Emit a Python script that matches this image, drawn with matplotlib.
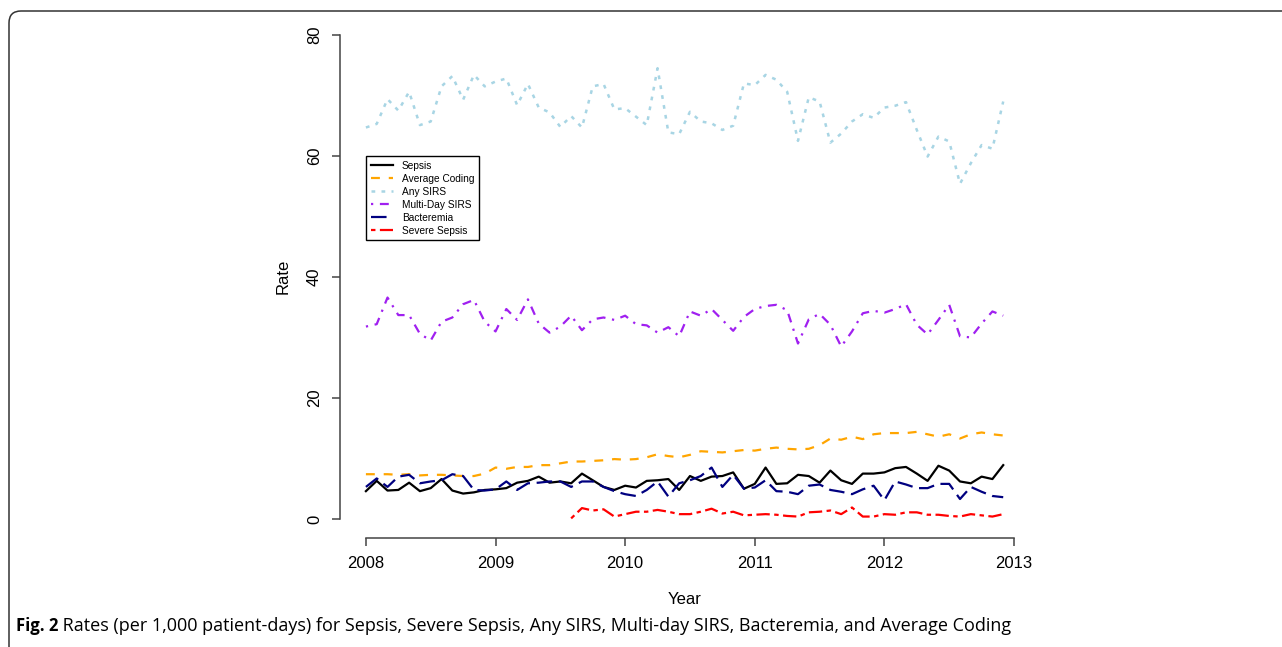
import matplotlib
matplotlib.use("Agg")
import matplotlib.pyplot as plt
from matplotlib.patches import FancyBboxPatch
from matplotlib.transforms import IdentityTransform
import numpy as np

# monthly observations, Jan 2008 .. Dec 2012
year_frac = 2008 + np.arange(60) / 12

sepsis = [4.6, 6.3, 4.7, 4.8, 6.0, 4.6, 5.1, 6.6, 4.7, 4.2,
          4.4, 4.8, 4.9, 5.1, 6.0, 6.3, 7.0, 6.0, 6.2, 5.9,
          7.5, 6.4, 5.3, 4.8, 5.5, 5.2, 6.3, 6.4, 6.6, 4.8,
          7.1, 6.3, 7.0, 7.1, 7.7, 5.0, 5.8, 8.5, 5.8, 5.9,
          7.3, 7.1, 6.0, 8.0, 6.4, 5.8, 7.5, 7.5, 7.7, 8.4,
          8.6, 7.5, 6.3, 8.8, 8.0, 6.2, 5.9, 7.0, 6.6, 8.9]
avg_coding = [7.4, 7.4, 7.4, 7.3, 7.4, 7.2, 7.3, 7.3, 7.2, 7.1,
              7.1, 7.5, 8.5, 8.3, 8.6, 8.6, 8.9, 8.9, 9.2, 9.5,
              9.5, 9.6, 9.7, 9.9, 9.8, 9.9, 10.2, 10.7, 10.4, 10.2,
              10.6, 11.2, 11.1, 11.0, 11.2, 11.4, 11.3, 11.6, 11.8, 11.6,
              11.5, 11.6, 12.2, 13.3, 13.1, 13.6, 13.2, 14.0, 14.2, 14.2,
              14.2, 14.4, 14.0, 13.6, 14.0, 13.3, 14.0, 14.3, 14.0, 13.8]
any_sirs = [64.7, 65.3, 69.4, 67.5, 70.6, 65.1, 65.7, 71.5, 73.2, 69.3,
            73.4, 71.5, 72.3, 72.8, 68.4, 71.9, 68.0, 67.2, 64.8, 66.6,
            64.7, 71.5, 71.9, 67.7, 67.9, 66.5, 65.1, 74.5, 63.9, 63.6,
            67.3, 65.7, 65.4, 64.3, 65.0, 72.0, 71.7, 73.4, 72.6, 70.6,
            62.5, 69.7, 69.0, 62.2, 63.7, 65.7, 66.9, 66.3, 68.0, 68.3,
            68.9, 64.3, 59.9, 63.2, 62.4, 55.4, 58.8, 61.8, 61.2, 69.0]
multi_day = [31.8, 32.2, 36.6, 33.7, 33.7, 30.6, 29.5, 32.6, 33.3, 35.5,
             36.2, 32.6, 31.0, 34.7, 32.9, 36.3, 32.3, 30.8, 31.8, 33.6,
             31.2, 33.0, 33.3, 32.9, 33.6, 32.2, 32.0, 30.8, 31.7, 30.2,
             34.3, 33.6, 34.7, 32.9, 31.1, 33.4, 34.7, 35.2, 35.4, 34.5,
             29.0, 33.0, 33.9, 32.1, 28.5, 31.0, 34.0, 34.4, 34.1, 34.7,
             35.5, 32.1, 30.5, 32.9, 35.4, 30.2, 30.0, 32.3, 34.3, 33.6]
bacteremia = [5.3, 6.7, 5.3, 7.0, 7.3, 5.9, 6.2, 6.4, 7.4, 7.1,
              4.8, 4.7, 4.9, 6.2, 4.8, 5.9, 6.0, 6.2, 6.2, 5.3,
              6.2, 6.2, 5.3, 4.6, 4.1, 3.8, 4.8, 6.2, 3.7, 5.9,
              6.4, 7.1, 8.5, 5.3, 7.3, 5.0, 5.2, 6.4, 4.6, 4.5,
              4.1, 5.5, 5.7, 4.8, 4.5, 4.1, 4.9, 5.5, 3.1, 6.2,
              5.7, 5.1, 5.1, 5.8, 5.8, 3.3, 5.3, 4.5, 3.8, 3.6]
# severe sepsis only reported from Aug 2009 on
severe_start = 19
severe = [0.1, 1.8, 1.4, 1.6, 0.4, 0.8, 1.2, 1.2, 1.5, 1.2,
          0.8, 0.8, 1.2, 1.7, 0.9, 1.2, 0.6, 0.7, 0.8, 0.7,
          0.5, 0.4, 1.1, 1.2, 1.4, 0.8, 1.9, 0.4, 0.4, 0.8,
          0.7, 1.1, 1.1, 0.7, 0.7, 0.5, 0.4, 0.8, 0.6, 0.4,
          0.8]

x_ticks = [2008, 2009, 2010, 2011, 2012, 2013]
y_ticks = [0, 20, 40, 60, 80]

FONT = "Liberation Sans"
LW = 1.6

fig = plt.figure(figsize=(12.82, 6.47), dpi=100)
ax = fig.add_axes([0.2652, 0.1685, 0.5379, 0.8074])

ax.plot(year_frac, sepsis, color="black", lw=LW, label="Sepsis")
ax.plot(year_frac, avg_coding, color="orange", lw=LW, dashes=(4, 4), label="Average Coding")
ax.plot(year_frac, any_sirs, color="#a8d5e4", lw=1.8, dashes=(1.5, 2.5), label="Any SIRS")
ax.plot(year_frac, multi_day, color="#A020F0", lw=LW, dashes=(1, 3, 4, 3), label="Multi-Day SIRS")
ax.plot(year_frac, bacteremia, color="navy", lw=LW, dashes=(7, 3), label="Bacteremia")
ax.plot(year_frac[severe_start:], severe, color="red", lw=LW, dashes=(2, 2, 6, 2), label="Severe Sepsis")

ax.set_xlim(2007.8, 2013.12)
ax.set_ylim(-3.14, 83.2)
for s in ["top", "right"]:
    ax.spines[s].set_visible(False)
ax.spines["left"].set_bounds(0, 80)
ax.spines["bottom"].set_bounds(2008, 2013)
for s in ["left", "bottom"]:
    ax.spines[s].set_color("#444444")
    ax.spines[s].set_linewidth(1.1)
ax.set_xticks(x_ticks)
ax.set_yticks(y_ticks)
ax.tick_params(length=6, width=1.1, color="#444444", pad=7, labelsize=12)
for lab in ax.get_xticklabels() + ax.get_yticklabels():
    lab.set_family(FONT)
for lab in ax.get_yticklabels():
    lab.set_rotation(90)
    lab.set_va("center")
ax.set_xlabel("Year", family=FONT, fontsize=12, labelpad=15)
ax.set_ylabel("Rate", family=FONT, fontsize=12, labelpad=12)

leg = ax.legend(loc="upper left", bbox_to_anchor=(366 / 1282, 1 - 156 / 647),
                bbox_transform=fig.transFigure, borderaxespad=0,
                prop={"family": FONT, "size": 7.3}, fancybox=False,
                edgecolor="black", framealpha=1, labelspacing=0.3,
                handlelength=2.2, handletextpad=0.9, borderpad=0.45)
leg.get_frame().set_linewidth(1.0)

# rounded figure frame
frame = FancyBboxPatch((9, -40), 1320, 647 - 11 + 40,
                       boxstyle="round,pad=0,rounding_size=12",
                       transform=IdentityTransform(), fill=False,
                       edgecolor="#333333", lw=1.1)
fig.patches.append(frame)

t1 = fig.text(16 / 1282, 1 - 626 / 647, "Fig. 2", family="Open Sans",
              fontweight="bold", fontsize=12, va="center")
ax.annotate(" Rates (per 1,000 patient-days) for Sepsis, Severe Sepsis, Any SIRS, "
            "Multi-day SIRS, Bacteremia, and Average Coding",
            xy=(1, 0.5), xycoords=t1, va="center", ha="left",
            family="Open Sans", fontsize=13, annotation_clip=False)

fig.savefig("out.png", dpi=100)
